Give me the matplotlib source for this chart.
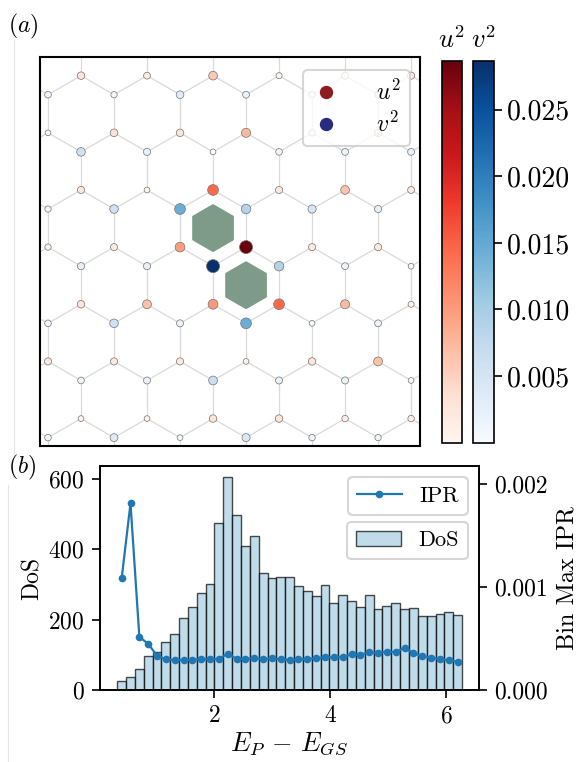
import numpy as np
import matplotlib
matplotlib.use('Agg')
import matplotlib.pyplot as plt
from matplotlib.collections import LineCollection
from matplotlib.patches import RegularPolygon
from matplotlib.lines import Line2D
from matplotlib.colors import Normalize
from matplotlib.cm import ScalarMappable
from matplotlib.ticker import FormatStrFormatter

plt.rcParams['font.family'] = ['cmr10', 'DejaVu Serif']
plt.rcParams['mathtext.fontset'] = 'cm'
plt.rcParams['axes.formatter.use_mathtext'] = True
plt.rcParams['font.size'] = 17

# ---------------- data: panel (a) ----------------
# u^2 on sublattice A (rows y = 0, 1.5, 3, ...), v^2 on sublattice B (rows y = 0.5, 2, 3.5, ...)
u2_rows = [
    [0.0029, 0.0017, 0.0060, 0.0006, 0.0023, 0.0023],
    [0.0003, 0.0034, 0.0029, 0.0075, 0.0011, 0.0029],
    [0.0023, 0.0003, 0.0144, 0.0023, 0.0063, 0.0017],
    [0.0009, 0.0020, 0.0098, 0.0285, 0.0020, 0.0023],
    [0.0029, 0.0066, 0.0103, 0.0144, 0.0072, 0.0006],
    [0.0023, 0.0023, 0.0023, 0.0003, 0.0029, 0.0066],
    [0.0003, 0.0003, 0.0029, 0.0029, 0.0011, 0.0011],
]
v2_rows = [
    [0.0014, 0.0009, 0.0034, 0.0017, 0.0009, 0.0009],
    [0.0057, 0.0023, 0.0003, 0.0014, 0.0017, 0.0017],
    [0.0009, 0.0057, 0.0144, 0.0089, 0.0046, 0.0023],
    [0.0023, 0.0023, 0.0287, 0.0089, 0.0017, 0.0003],
    [0.0014, 0.0057, 0.0020, 0.0144, 0.0003, 0.0017],
    [0.0014, 0.0020, 0.0063, 0.0020, 0.0020, 0.0003],
    [0.0014, 0.0037, 0.0003, 0.0043, 0.0011, 0.0009],
]
flux_plaquettes = [(2, 5), (3, 6)]   # (A-row k, column i) of top site of each plaquette
cbar_ticks = [0.005, 0.010, 0.015, 0.020, 0.025]
vmax = 0.0287

# ---------------- data: panel (b) ----------------
e_lo, e_hi = 0.337, 6.269
dos = [26, 37, 61, 96, 109, 136, 159, 205, 236, 276, 301, 473, 606, 497, 410,
       437, 332, 319, 321, 322, 296, 282, 267, 299, 248, 271, 252, 235, 269,
       229, 239, 247, 229, 234, 211, 209, 217, 221, 212]
ipr = [1.081, 1.809, 0.515, 0.447, 0.333, 0.298, 0.291, 0.291, 0.294, 0.298,
       0.298, 0.301, 0.353, 0.301, 0.304, 0.307, 0.301, 0.307, 0.298, 0.291,
       0.298, 0.301, 0.307, 0.317, 0.317, 0.317, 0.346, 0.343, 0.366, 0.359,
       0.372, 0.366, 0.411, 0.356, 0.327, 0.314, 0.298, 0.288, 0.275]
ipr = [v * 1e-3 for v in ipr]

# ---------------- figure ----------------
W, H = 583, 762
fig = plt.figure(figsize=(W / 100, H / 100), dpi=100)

def frac(x0, y0, x1, y1):
    return [x0 / W, 1 - y1 / H, (x1 - x0) / W, (y1 - y0) / H]

dx = np.sqrt(3) / 2
ax = fig.add_axes(frac(40, 57, 420, 446))

# bonds (geometry of honeycomb)
segs = []
for k in range(-1, 9):
    for i in range(-2, 14):
        if (i % 2 == 1) != (k % 2 == 0):
            continue
        x, y = i * dx, 1.5 * k
        segs.append([(x, y), (x, y - 1)])
        segs.append([(x, y), (x - dx, y + 0.5)])
        segs.append([(x, y), (x + dx, y + 0.5)])
ax.add_collection(LineCollection(segs, colors='#dadada', linewidths=0.9, zorder=1))

norm = Normalize(0, vmax)
def sizes(v):
    v = np.asarray(v)
    return 14 + 74 * (v / vmax) ** 0.7

ax_x, ax_y, ax_v = [], [], []
for k, row in enumerate(u2_rows):
    off = 1 if k % 2 == 0 else 0
    for j, val in enumerate(row):
        ax_x.append((2 * j + off) * dx); ax_y.append(1.5 * k); ax_v.append(val)
bx, by, bv = [], [], []
for k, row in enumerate(v2_rows):
    off = 0 if k % 2 == 0 else 1
    for j, val in enumerate(row):
        bx.append((2 * j + off) * dx); by.append(1.5 * k + 0.5); bv.append(val)

ax.scatter(ax_x, ax_y, c=ax_v, cmap='Reds', norm=norm, s=sizes(ax_v),
           edgecolors='0.45', linewidths=0.5, zorder=3)
ax.scatter(bx, by, c=bv, cmap='Blues', norm=norm, s=sizes(bv),
           edgecolors='0.45', linewidths=0.5, zorder=3)

for k, i in flux_plaquettes:
    ax.add_patch(RegularPolygon((i * dx, 1.5 * k + 1), 6, radius=0.6, orientation=0,
                                facecolor='#7d9b88', edgecolor='#7d9b88', lw=1.5,
                                joinstyle='round', zorder=2))

ax.set_xlim(-0.21, 9.76)
ax.set_ylim(9.72, -0.49)
ax.set_xticks([]); ax.set_yticks([])
for s in ax.spines.values():
    s.set_linewidth(1.5)

h1 = Line2D([], [], marker='o', ls='none', color='#8e1b1f', ms=8.6)
h2 = Line2D([], [], marker='o', ls='none', color='#272c80', ms=8.6)
leg = ax.legend([h1, h2], ['$u^2$', '$v^2$'], loc='upper right',
                bbox_to_anchor=(0.974, 0.966), borderaxespad=0,
                handlelength=1.2, handletextpad=1.5, labelspacing=0.3,
                borderpad=0.4, fontsize=17)
leg.get_frame().set_linewidth(1.5)

# colorbars
cu = fig.add_axes(frac(441.7, 60.5, 462.3, 442.5))
cb1 = fig.colorbar(ScalarMappable(norm=norm, cmap='Reds'), cax=cu)
cb1.set_ticks([])
cb1.outline.set_linewidth(1.2)
cu.set_title('$u^2$', fontsize=19, pad=9)
cv = fig.add_axes(frac(473.3, 60.5, 494, 442.5))
cb2 = fig.colorbar(ScalarMappable(norm=norm, cmap='Blues'), cax=cv)
cb2.set_ticks(cbar_ticks)
cb2.ax.yaxis.set_major_formatter(FormatStrFormatter('%.3f'))
cb2.outline.set_linewidth(1.2)
cv.tick_params(length=5.5, width=1.2, pad=4, labelsize=20)
cv.set_title('$v^2$', fontsize=19, pad=9)

# ---------------- panel (b) ----------------
bx0 = fig.add_axes(frac(100, 466, 479.3, 690))
edges = np.linspace(e_lo, e_hi, len(dos) + 1)
centers = 0.5 * (edges[:-1] + edges[1:])
width = edges[1] - edges[0]
bx0.bar(centers, dos, width=width, color='#a6cee3', alpha=0.7,
        edgecolor='black', linewidth=1, label='DoS')
bx0.set_ylabel('DoS', fontsize=17, labelpad=3)
bx0.set_xlabel(r'$E_P\, -\, E_{GS}$', fontsize=19, labelpad=2)
bx0.set_yticks([0, 200, 400, 600])
bx0.set_xticks([2, 4, 6])
ax2 = bx0.twinx()
ax2.plot(centers, ipr, '-o', color='#1f77b4', ms=4.5, lw=1.6, label='IPR')
ax2.set_ylim(0, 1.2 * max(ipr))
ax2.set_yticks([0, 0.001, 0.002])
ax2.yaxis.set_major_formatter(FormatStrFormatter('%.3f'))
ax2.set_ylabel('Bin Max IPR', fontsize=17.5, labelpad=6)
for a in (bx0, ax2):
    a.tick_params(direction='out', length=5.5, width=1.2, pad=5.5, labelsize=17)
    for s in a.spines.values():
        s.set_linewidth(1.2)

l1 = ax2.legend(loc='upper right', bbox_to_anchor=(0.97, 0.95), borderaxespad=0, fontsize=16)
l2 = bx0.legend(loc='upper right', bbox_to_anchor=(0.97, 0.75), borderaxespad=0, fontsize=16)
for l in (l1, l2):
    l.get_frame().set_linewidth(1.5)

fig.text(23 / W, 1 - 26 / H, '$(a)$', ha='center', va='center', fontsize=17)
fig.text(22 / W, 1 - 467 / H, '$(b)$', ha='center', va='center', fontsize=17)
fig.add_artist(Line2D([14 / W, 14 / W], [1 - 40 / H, 1 - 455 / H], color='#e4e4e4', lw=0.8))
fig.add_artist(Line2D([8 / W, 8 / W], [1 - 485 / H, 0.0], color='#e4e4e4', lw=0.8))

fig.savefig('out.png', dpi=100)
